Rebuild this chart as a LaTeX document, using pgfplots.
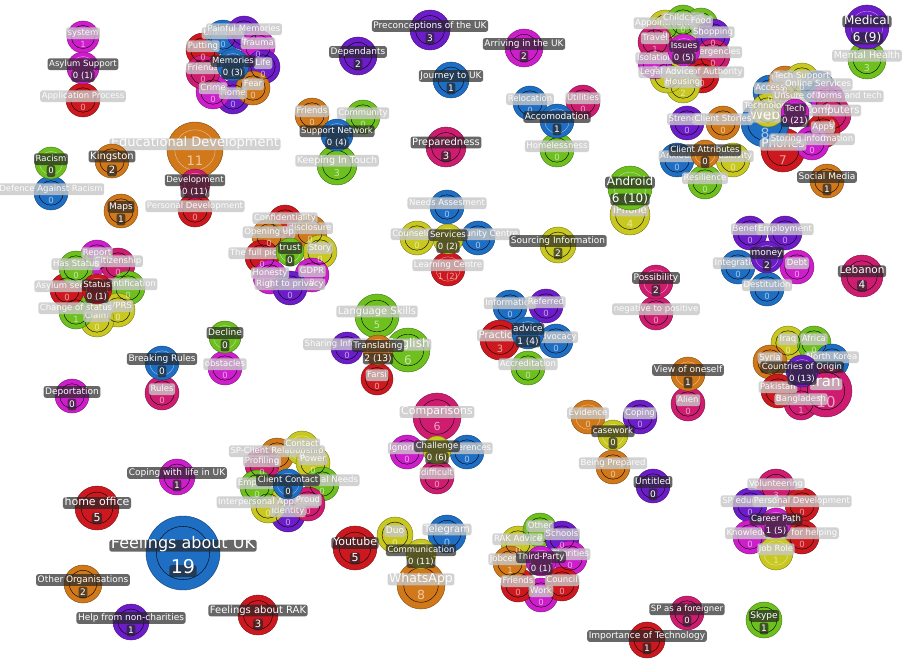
\documentclass[border=0pt]{standalone}
\usepackage{fontspec}
\setmainfont{DejaVu Sans}
\usepackage{pgfplots}
\pgfplotsset{compat=1.18}
\usepackage{pgfplotstable}

\definecolor{cr}{RGB}{204,24,30}
\definecolor{cb}{RGB}{30,110,196}
\definecolor{cg}{RGB}{110,192,30}
\definecolor{cy}{RGB}{200,200,32}
\definecolor{co}{RGB}{208,120,26}
\definecolor{cp}{RGB}{108,28,200}
\definecolor{cm}{RGB}{206,30,204}
\definecolor{ck}{RGB}{206,28,112}

% x,y in pixels (y down), r radius, c colour, h ring, f/g font sizes
% petals: faded labels
\pgfplotstableread[col sep=comma]{
x,y,r,c,h,f,g,name,num
83,37,16,cm,0,8.5,8.5,system,1
83,100,17,cr,0,8.5,8.5,Application Process,0
203,50,17,cr,0,8.5,8.5,Putting,0
223,37,17,cb,0,8.5,8.5,Unknown,0
244,33,17,cp,0,8.5,8.5,Painful Memories,0
258,47,17,cm,0,8.5,8.5,Trauma,0
263,67,17,cp,0,8.5,8.5,Life,0
233,97,17,cp,0,8.5,8.5,Home,0
213,92,17,cm,0,8.5,8.5,Crime,0
253,88,17,co,0,8.5,8.5,Fear,0
203,72,17,ck,0,8.5,8.5,Friends,0
195,210,17,cr,0,8.5,8.5,Personal Development,0
195,150,28,co,1,13,13,Educational Development,11
51,193,17,cb,0,8.5,8.5,Defence Against Racism,0
312,115,17,co,0,8.5,8.5,Friends,0
363,117,17,cg,0,8.5,8.5,Community,0
337,165,20,cg,0,9.5,9.5,Keeping In Touch,3
530,103,17,cb,0,8.5,8.5,Relocation,0
583,102,17,ck,0,8.5,8.5,Utilities,0
557,150,17,cg,0,8.5,8.5,Homelessness,0
665,27,17,cy,0,8.5,8.5,Appointments,0
683,22,17,cg,0,8.5,8.5,Childcare,0
701,25,17,cg,0,8.5,8.5,Food,0
713,36,17,cp,0,8.5,8.5,Shopping,0
713,56,17,ck,0,8.5,8.5,Emergencies,0
702,76,17,cr,0,8.5,8.5,People of Authority,0
683,86,17,cy,0,8.5,8.5,Housing,2
667,76,17,cy,0,8.5,8.5,Legal Advice,0
655,62,17,cm,0,8.5,8.5,Isolation,2
655,42,17,ck,0,8.5,8.5,Travel,1
867,60,19,cg,0,9.5,9.5,Mental Health,3
783,150,22,cr,0,12,12,Phones,7
765,123,24,cb,0,14,14,Web,8
770,92,17,cb,0,8.5,8.5,Access,0
785,83,17,co,0,8.5,8.5,WTech,0
802,80,17,cy,0,8.5,8.5,Tech Support,0
818,88,17,cb,0,8.5,8.5,Online Services,0
828,100,17,cm,0,8.5,8.5,Unsure of forms and tech,0
832,115,19,ck,0,10,10,Computers,0
823,131,17,cr,0,8.5,8.5,Apps,0
768,110,17,cy,0,8.5,8.5,Technology,0
812,143,17,cm,0,8.5,8.5,Storing information,0
687,123,17,cp,0,8.5,8.5,Strength,0
723,123,17,co,0,8.5,8.5,Client Stories,0
677,160,17,cb,0,8.5,8.5,Anxious,0
733,160,17,cy,0,8.5,8.5,Positivity,0
705,182,17,cg,0,8.5,8.5,Resilience,0
630,215,20,cy,0,10,10,iPhone,4
97,257,17,cm,0,8.5,8.5,Report,0
118,265,17,ck,0,8.5,8.5,Citizenship,0
128,288,17,cg,0,8.5,8.5,Identification,0
118,310,17,cy,0,8.5,8.5,SVPRS,0
97,320,17,cy,0,8.5,8.5,Claim,0
76,312,17,cg,0,8.5,8.5,Change of status,1
67,290,17,cr,0,8.5,8.5,Asylum seeker,0
76,268,17,cg,0,8.5,8.5,Has Status,0
225,368,17,cm,0,8.5,8.5,obstacles,0
162,393,17,ck,0,8.5,8.5,Rules,0
285,222,17,cr,0,8.5,8.5,Confidentiality,0
310,232,17,co,0,8.5,8.5,disclosure,0
269,236,17,co,0,8.5,8.5,Opening up,0
262,257,17,cr,0,8.5,8.5,The full picture,0
320,252,17,cy,0,8.5,8.5,Story,0
312,275,17,cm,0,8.5,8.5,GDPR,0
270,277,17,cm,0,8.5,8.5,Honesty,0
290,288,17,cp,0,8.5,8.5,Right to privacy,0
447,207,17,cb,0,8.5,8.5,Needs Assesment,0
417,238,17,cy,0,8.5,8.5,Counselling,0
478,238,17,cb,0,8.5,8.5,Community Centre,0
448,269,17,cr,1,8.5,8.5,Learning Centre,1 (2)
377,316,22,cg,0,10,10,Language Skills,5
408,350,22,cg,0,12,12,English,6
347,348,16,cp,0,8.5,8.5,Sharing Information,0
377,379,16,cr,0,8.5,8.5,Farsi,0
510,307,17,cb,0,8.5,8.5,Information,0
546,306,17,cp,0,8.5,8.5,Referred,0
556,341,17,cb,0,8.5,8.5,Advocacy,0
528,368,17,cg,0,8.5,8.5,Accreditation,0
500,340,20,cr,0,10,10,Practical,3
750,233,17,cp,0,8.5,8.5,Benefits,0
785,233,17,cp,0,8.5,8.5,Employment,0
738,267,17,cb,0,8.5,8.5,Integration,0
797,267,17,cm,0,8.5,8.5,Debt,0
767,289,17,cb,0,8.5,8.5,Destitution,0
656,313,17,ck,0,8.5,8.5,negative to positive,0
688,404,17,ck,0,8.5,8.5,Alien,0
788,343,17,cy,0,8.5,8.5,Iraq,0
814,343,17,cg,0,8.5,8.5,Africa,0
832,361,17,cb,0,8.5,8.5,North Korea,0
770,362,17,co,0,8.5,8.5,Syria,2
801,403,17,ck,0,8.5,8.5,Bangladesh,1
778,391,17,cr,0,8.5,8.5,Pakistan,0
826,391,26,ck,0,15,15,Iran,10
437,417,24,ck,0,11,11,Comparisons,6
407,452,17,cm,0,8.5,8.5,Ignoring,0
467,452,17,cb,0,8.5,8.5,Differences,0
437,477,17,ck,0,8.5,8.5,difficult,0
588,417,17,co,1,8.5,8.5,Evidence,0
640,417,17,cp,0,8.5,8.5,Coping,0
613,467,17,co,0,8.5,8.5,Being Prepared,0
776,488,19,ck,0,8.5,8.5,Volunteering,3
750,505,17,cp,0,8.5,8.5,SP education,0
802,505,17,cr,0,8.5,8.5,Personal Development,0
750,537,17,cm,0,8.5,8.5,Knowledge,0
802,537,17,cr,0,8.5,8.5,Skills for helping,0
776,553,17,cy,1,8.5,8.5,Job Role,1
277,455,17,co,0,8.5,8.5,SP-Client Relationship,0
262,465,17,ck,0,8.5,8.5,Profiling,0
302,448,17,cy,1,8.5,8.5,Contact,0
313,463,17,cy,0,8.5,8.5,Power,0
322,484,17,cg,0,8.5,8.5,Additional Needs,0
288,515,17,cp,0,8.5,8.5,Identity,0
268,506,17,cy,0,8.5,8.5,Interpersonal Approach,0
308,504,17,ck,0,8.5,8.5,Proud,0
257,487,17,cg,0,8.5,8.5,Empathy,0
395,535,18,cy,0,9,9,Duo,0
447,534,19,cb,0,10,10,Telegram,0
421,585,24,co,0,12.5,12.5,WhatsApp,8
518,543,17,cy,0,8.5,8.5,RAK Advice,0
540,530,17,cg,0,8.5,8.5,Other,0
562,538,17,cp,0,8.5,8.5,Schools,0
570,558,17,cm,0,8.5,8.5,Charities,0
541,595,17,cm,0,8.5,8.5,Work,0
518,585,17,cr,0,8.5,8.5,Friends,0
562,584,17,cr,0,8.5,8.5,Council,0
510,563,17,co,0,8.5,8.5,Jobcentre,1
}\petals

% hubs and single nodes: dark labels
\pgfplotstableread[col sep=comma]{
x,y,r,c,h,f,g,name,num
83,68,16,cm,1,8.5,8.5,Asylum Support,0 (1)
233,65,16,cb,1,8.5,8.5,Memories,0 (3)
195,184,15,ck,1,8.5,8.5,Development,0 (11)
51,163,16,cg,1,8.5,8.5,Racism,0
112,161,17,co,0,10,10,Kingston,2
121,211,17,co,0,9,9,Maps,1
430,30,20,cp,0,9,9,Preconceptions of the UK,3
358,56,19,cp,0,9,9,Dependants,2
524,48,19,cm,0,9,9,Arriving in the UK,2
451,80,18,cb,0,9,9,Journey to UK,1
446,147,20,ck,0,10,10,Preparedness,3
337,135,16,cb,1,8.5,8.5,Support Network,0 (4)
557,121,17,cb,1,9,9,Accomodation,1
684,50,16,cm,1,8.5,8.5,Issues,0 (5)
867,27,22,cp,1,12,12,Medical,6 (9)
795,113,14,cm,1,8.5,8.5,Tech,0 (21)
705,154,14,co,1,8.5,8.5,Client Attributes,0
827,181,17,co,0,9,9,Social Media,1
630,188,22,cg,1,12,12,Android,6 (10)
97,289,15,cr,1,8.5,8.5,Status,0 (1)
225,337,16,cg,1,9,9,Decline,0
162,363,17,cb,1,9,9,Breaking Rules,0
72,396,17,cm,0,9,9,Deportation,0
290,252,14,cg,1,9,9,trust,0
448,239,15,cy,1,8.5,8.5,Services,0 (2)
558,245,18,cy,0,9,9,Sourcing Information,2
378,350,15,co,1,9,9,Translating,2 (13)
528,333,16,cb,1,9,9,advice,1 (4)
767,257,16,cp,1,9,9,money,2
862,276,21,ck,0,10.5,10.5,Lebanon,4
656,282,17,ck,1,9,9,Possibility,2
688,374,17,co,1,9,9,View of oneself,1
802,371,16,cp,1,8.5,8.5,Countries of Origin,0 (13)
437,450,14,cy,1,8.5,8.5,Challenge,0 (6)
613,435,15,cy,1,8.5,8.5,casework,0
653,486,17,cp,0,9,9,Untitled,0
776,523,15,cm,1,8.5,8.5,Career Path,1 (5)
687,613,17,ck,0,8.5,8.5,SP as a foreigner,0
764,620,18,cg,0,9,9,Skype,1
647,640,18,cr,0,9,9,Importance of Technology,1
177,477,18,cm,0,9,9,Coping with life in UK,1
97,508,22,cr,0,11,11,home office,5
183,553,37,cb,0,16,19,Feelings about UK,19
83,584,19,co,0,9,9,Other Organisations,2
131,622,18,cp,0,9,9,Help from non-charities,1
258,615,20,cr,0,10,10,Feelings about RAK,3
288,484,15,cb,1,8.5,8.5,Client Contact,0
355,548,22,cr,0,11,11,Youtube,5
421,554,15,cy,1,8.5,8.5,Communication,0 (11)
541,561,15,cm,1,8.5,8.5,Third-Party,0 (1)
}\mains

\pgfplotsset{
  bub/.style={scatter, only marks, mark=*, point meta=explicit symbolic,
    scatter/classes={
      cr={fill=cr,draw=cr!60!black}, cb={fill=cb,draw=cb!60!black},
      cg={fill=cg,draw=cg!60!black}, cy={fill=cy,draw=cy!60!black},
      co={fill=co,draw=co!60!black}, cp={fill=cp,draw=cp!60!black},
      cm={fill=cm,draw=cm!60!black}, ck={fill=ck,draw=ck!60!black}},
    visualization depends on={\thisrow{r}\as\rad},
    scatter/@pre marker code/.append style={/tikz/mark size=\rad, /tikz/line width=0.8pt}},
  ring/.style={scatter, only marks, mark=o, point meta=explicit symbolic,
    scatter/classes={0={draw=none}, 1={draw=white, draw opacity=0.55}},
    visualization depends on={\thisrow{r}\as\rad},
    scatter/@pre marker code/.append style={/tikz/mark size=0.72*\rad, /tikz/line width=1.4pt}},
  lbl/.style={only marks, mark=none, point meta=explicit symbolic,
    visualization depends on={\thisrow{#1}\as\fs},
    nodes near coords={\pgfplotspointmeta},
    nodes near coords style={anchor=center, font=\fontsize{\fs}{\fs}\selectfont,
      inner xsep=1.6pt, inner ysep=1.2pt, text height=0.74em, text depth=0.2em,
      rounded corners=2.5pt}},
  namebox/.style={lbl=f, nodes near coords style={yshift={0.45*\fs}}},
  numbox/.style={lbl=g, nodes near coords style={yshift={-0.95*\fs}}},
  darkbox/.style={nodes near coords style={fill=black!85, fill opacity=0.7, text opacity=1, text=white}},
}

\begin{document}
\begin{tikzpicture}
\begin{axis}[hide axis, scale only axis, width=903pt, height=661pt,
  xmin=0, xmax=903, ymin=0, ymax=661, y dir=reverse, clip=false]

% petal bubbles and their faded labels
\addplot[bub] table[x=x,y=y,meta=c]{\petals};
\addplot[ring] table[x=x,y=y,meta=h]{\petals};
\addplot[namebox, nodes near coords style={fill=black!22, fill opacity=0.8, text opacity=0.95, text=white}]
  table[x=x,y=y,meta=name]{\petals};
\addplot[numbox, nodes near coords style={text=white, text opacity=0.6}]
  table[x=x,y=y,meta=num]{\petals};

% hubs and single nodes on top
\addplot[bub] table[x=x,y=y,meta=c]{\mains};
\addplot[ring] table[x=x,y=y,meta=h]{\mains};
\addplot[namebox, darkbox] table[x=x,y=y,meta=name]{\mains};
\addplot[numbox, darkbox] table[x=x,y=y,meta=num]{\mains};

\end{axis}
\pgfresetboundingbox
\path[use as bounding box] (0,0) rectangle (903pt,661pt);
\end{tikzpicture}
\end{document}
